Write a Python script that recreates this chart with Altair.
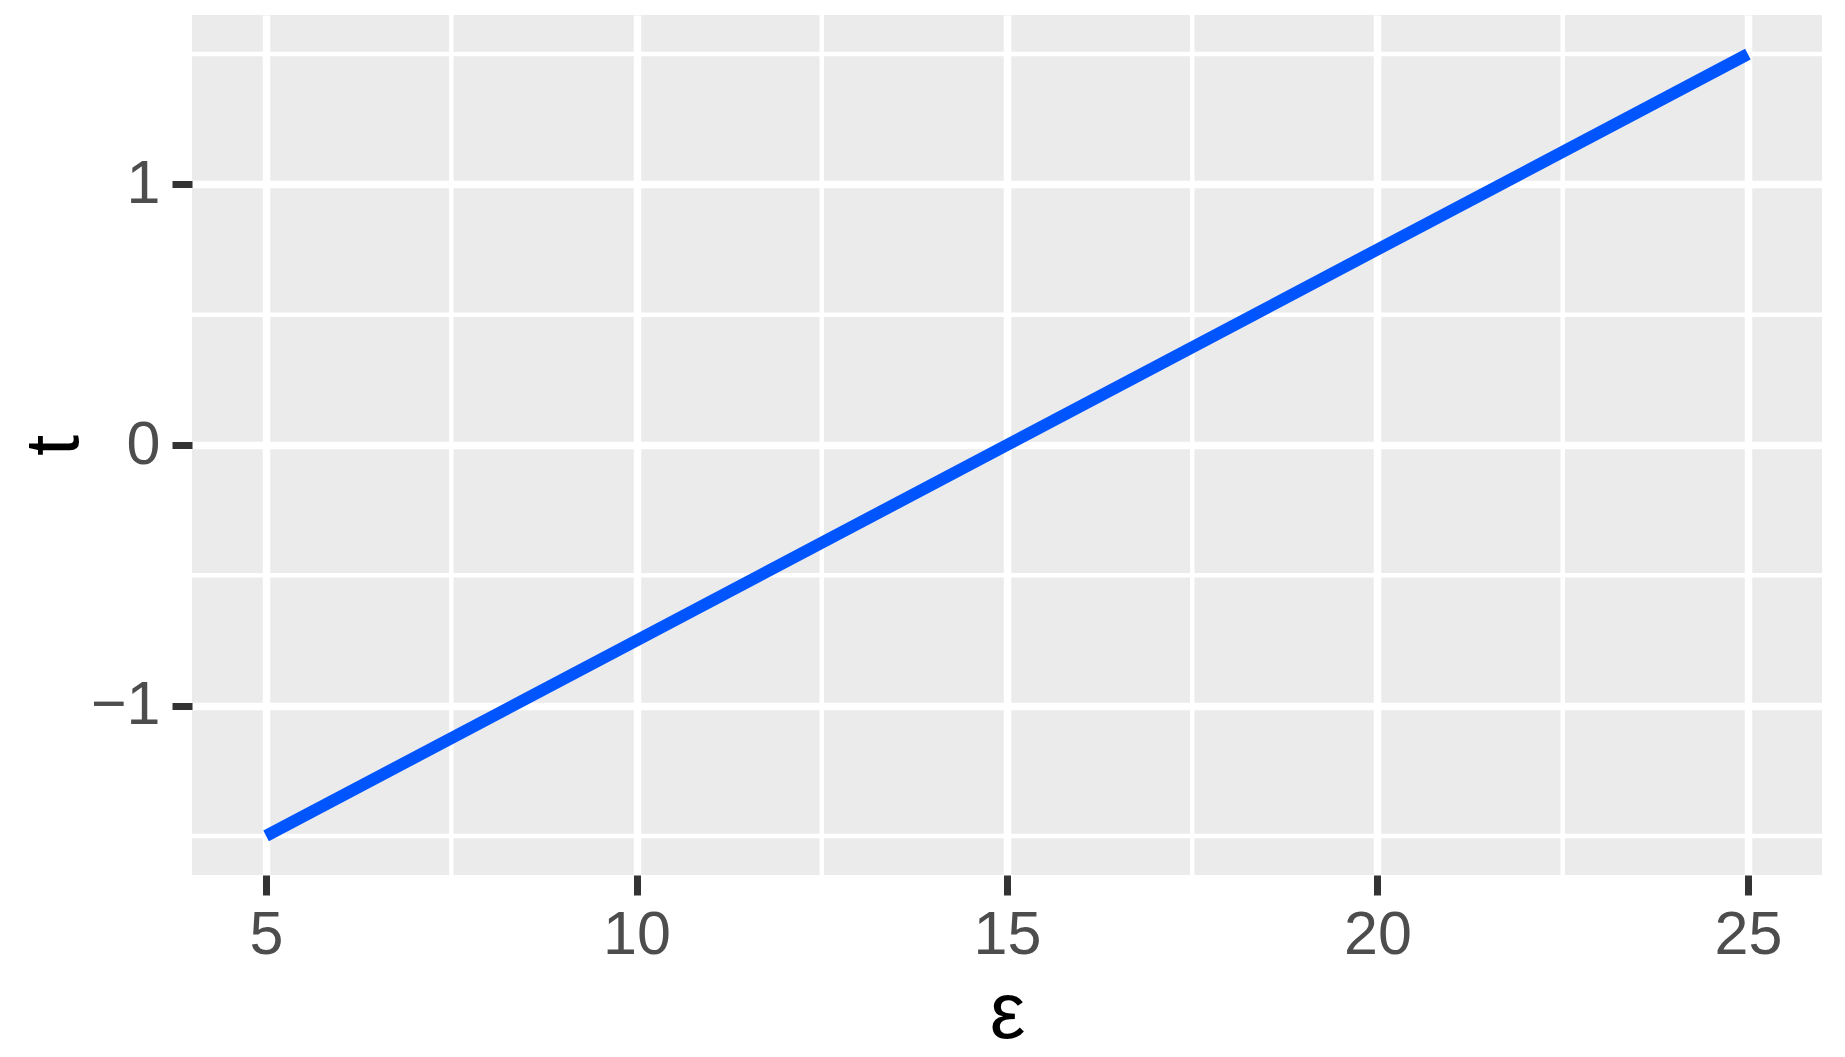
import altair as alt
import pandas as pd

# data
eps = [5, 10, 15, 20, 25]
t_vals = [-1.5, -0.75, 0.0, 0.75, 1.5]

# grid / tick positions
x_major = [5, 10, 15, 20, 25]
x_minor = [7.5, 12.5, 17.5, 22.5]
y_major = [-1, 0, 1]
y_minor = [-1.5, -0.5, 0.5, 1.5]

df = pd.DataFrame({"eps": eps, "t": t_vals})
vminor = pd.DataFrame({"eps": x_minor})
hminor = pd.DataFrame({"t": y_minor})

FONT = "Liberation Sans"
xscale = alt.Scale(domain=[4, 26], nice=False, zero=False)
yscale = alt.Scale(domain=[-1.65, 1.65], nice=False, zero=False)

xaxis = alt.Axis(
    values=x_major,
    title="ε",
    grid=True,
    gridColor="white",
    gridWidth=7.5,
    domain=False,
    tickSize=20,
    tickWidth=7,
    tickColor="#333333",
    labelFont=FONT,
    labelFontSize=61,
    labelColor="#4D4D4D",
    labelPadding=10,
    labelFlush=False,
    titleFont=FONT,
    titleFontSize=80,
    titleFontWeight="normal",
    titleColor="black",
    titleBaseline="alphabetic",
    titleY=162,
)
yaxis = alt.Axis(
    values=y_major,
    title="t",
    grid=True,
    gridColor="white",
    gridWidth=7.5,
    domain=False,
    tickSize=20,
    tickWidth=7,
    tickColor="#333333",
    labelFont=FONT,
    labelFontSize=61,
    labelColor="#4D4D4D",
    labelPadding=12,
    labelFlush=False,
    labelExpr="replace(datum.label, '-', '−')",
    titleFont=FONT,
    titleFontSize=76,
    titleFontWeight="normal",
    titleColor="black",
    titleBaseline="alphabetic",
    titleX=-115,
)

vrules = alt.Chart(vminor).mark_rule(color="white", strokeWidth=4.5).encode(
    x=alt.X("eps:Q", scale=xscale, axis=xaxis)
)
hrules = alt.Chart(hminor).mark_rule(color="white", strokeWidth=4.5).encode(
    y=alt.Y("t:Q", scale=yscale, axis=yaxis)
)

line = alt.Chart(df).mark_line(color="#0055FF", strokeWidth=12, strokeCap="butt").encode(
    x=alt.X("eps:Q", scale=xscale, axis=xaxis),
    y=alt.Y("t:Q", scale=yscale, axis=yaxis),
)

chart = (
    alt.layer(vrules, hrules, line)
    .properties(
        width=1630,
        height=860,
        autosize=alt.AutoSizeParams(type="none"),
        padding={"left": 184, "top": 7, "right": 15, "bottom": 180},
        background="white",
    )
    .configure_view(fill="#EBEBEB", strokeWidth=0)
)

chart.save("out.html", embed_options={"renderer": "svg", "actions": False})
